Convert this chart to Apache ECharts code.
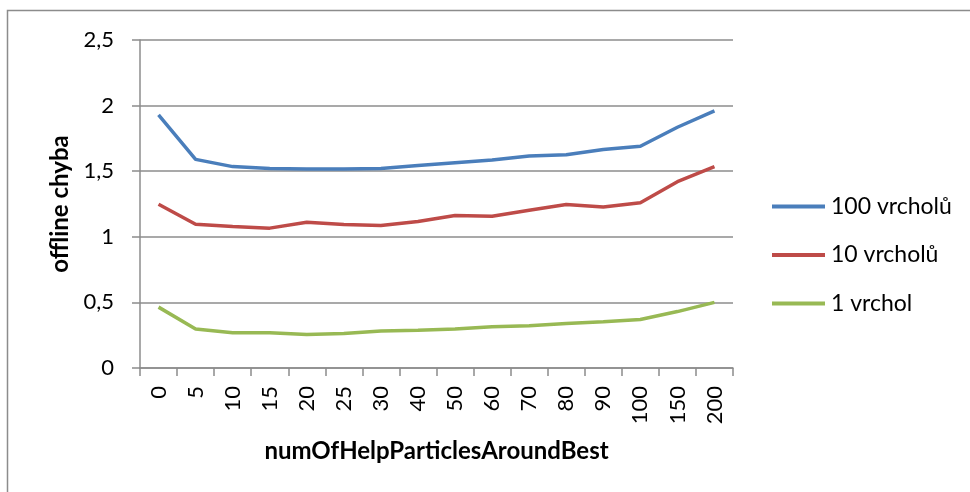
<!DOCTYPE html>
<html>
<head>
<meta charset="utf-8">
<script src="https://cdn.jsdelivr.net/npm/echarts@6/dist/echarts.min.js"></script>
<style>html,body{margin:0;padding:0;background:#fff;}#c{width:970px;height:492px;}</style>
</head>
<body>
<div id="c"></div>
<script>
var categories = ['0','5','10','15','20','25','30','40','50','60','70','80','90','100','150','200'];
var yTicks = [0, 0.5, 1, 1.5, 2, 2.5];
var series100 = [1.93,1.59,1.535,1.52,1.517,1.517,1.52,1.544,1.565,1.585,1.615,1.625,1.665,1.69,1.835,1.96];
var series10 = [1.248,1.096,1.078,1.066,1.111,1.094,1.086,1.116,1.162,1.157,1.203,1.246,1.228,1.26,1.42,1.534];
var series1 = [0.464,0.297,0.269,0.269,0.256,0.263,0.282,0.287,0.297,0.315,0.322,0.34,0.353,0.37,0.43,0.5];
var seriesNames = ['100 vrcholů','10 vrcholů','1 vrchol'];
var colors = ['#4A7EBB','#BE4B48','#98B954'];

var font = 'Lato, "Open Sans", sans-serif';
var chart = echarts.init(document.getElementById('c'), null, {renderer:'canvas'});
var data = [series100, series10, series1];
chart.setOption({
  animation:false,
  textStyle:{fontFamily:font},
  graphic:[{type:'rect', shape:{x:7.5,y:10.5,width:1200,height:1200}, style:{fill:'none',stroke:'#8c8c8c',lineWidth:1.5}, silent:true}],
  grid:{left:140, right:237, top:40, bottom:124, containLabel:false},
  legend:{
    orient:'vertical', left:772, top:195, itemGap:25.5, padding:0,
    itemWidth:53, itemHeight:4, icon:'rect',
    textStyle:{fontFamily:font, fontSize:23, color:'#000', padding:[0,0,0,1]},
    data:seriesNames
  },
  xAxis:{
    type:'category', data:categories, boundaryGap:true,
    name:'numOfHelpParticlesAroundBest', nameLocation:'middle', nameGap:71,
    nameTextStyle:{fontFamily:font, fontSize:24, fontWeight:'bold', color:'#000'},
    axisLine:{lineStyle:{color:'#8c8c8c', width:1.5}},
    axisTick:{show:true, length:8, alignWithLabel:false, lineStyle:{color:'#8c8c8c', width:1.5}},
    axisLabel:{rotate:90, margin:18, fontSize:22, color:'#000', fontFamily:font, interval:0}
  },
  yAxis:{
    type:'value', min:0, max:2.5, interval:0.5,
    name:'offline chyba', nameLocation:'middle', nameGap:66, nameRotate:90,
    nameTextStyle:{fontFamily:font, fontSize:24, fontWeight:'bold', color:'#000'},
    axisLine:{show:true, lineStyle:{color:'#8c8c8c', width:1.5}},
    axisTick:{show:true, length:8, lineStyle:{color:'#8c8c8c', width:1.5}},
    splitLine:{lineStyle:{color:'#8c8c8c', width:1.5}},
    axisLabel:{margin:26, fontSize:22, color:'#000', fontFamily:font,
      formatter:function(v){ return yTicks.indexOf(v) >= 0 ? String(v).replace('.',',') : ''; }}
  },
  series: seriesNames.map(function(n,i){
    return {name:n, type:'line', data:data[i], symbol:'none', smooth:false,
      lineStyle:{color:colors[i], width:3.5}, itemStyle:{color:colors[i]}};
  })
});
</script>
</body>
</html>
